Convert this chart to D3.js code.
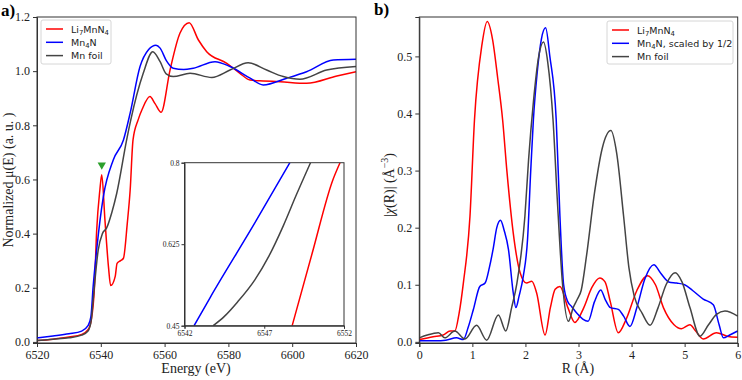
<!doctype html>
<html>
  <head>
    <script src="https://cdnjs.cloudflare.com/ajax/libs/d3/7.8.5/d3.min.js"></script>
    <style>
      body { margin: 0; background: #fff; }
      svg { display: block; }
      .tick text { font-family: "Liberation Serif", "Times New Roman", serif; font-size: 12px; fill: #222; }
      .axis path, .axis line { stroke: #333; }
      .lbl { font-family: "Liberation Serif", "Times New Roman", serif; font-size: 14px; fill: #222; }
      .leg { font-family: "DejaVu Sans", sans-serif; font-size: 9.5px; fill: #222; }
    </style>
  </head>
  <body>
    <svg id="chart" width="742" height="380"></svg>
    <script>
      // ---- panel a: XANES ----
      var liE  = [6520, 6525, 6530, 6534, 6536, 6537, 6538, 6538.7, 6539.7, 6540.3, 6541.3, 6542.4, 6543.1, 6544.5, 6545.1, 6546.2, 6547.1, 6548.3, 6549.2, 6550.1, 6551.7, 6553, 6555.4, 6557, 6558.9, 6561.7, 6564.8, 6567.7, 6570.6, 6573.2, 6579.5, 6583.6, 6586.8, 6590.9, 6596.2, 6604.5, 6614, 6620];
      var liMu = [0.005, 0.01, 0.018, 0.028, 0.045, 0.08, 0.2, 0.41, 0.56, 0.617, 0.45, 0.278, 0.208, 0.241, 0.29, 0.30, 0.309, 0.438, 0.56, 0.746, 0.82, 0.86, 0.906, 0.88, 0.848, 1.004, 1.14, 1.179, 1.115, 1.072, 1.029, 0.992, 0.967, 0.964, 0.961, 0.955, 0.982, 0.998];

      var mnE  = [6520, 6525, 6530, 6534, 6536, 6536.9, 6537.6, 6538.7, 6540.8, 6543.9, 6547.1, 6549.2, 6552.3, 6555, 6557.3, 6558.6, 6560.5, 6562.7, 6566, 6569, 6575.8, 6580.5, 6586.8, 6590.9, 6598.3, 6604.5, 6612.9, 6620];
      var mnMu = [0.015, 0.022, 0.03, 0.04, 0.06, 0.093, 0.204, 0.34, 0.537, 0.672, 0.746, 0.845, 1.017, 1.08, 1.096, 1.085, 1.04, 1.011, 1.006, 1.011, 1.035, 1.017, 0.974, 0.949, 0.974, 0.998, 1.041, 1.044];

      var feE  = [6520, 6525, 6530, 6534, 6536, 6537, 6537.6, 6539.2, 6540.5, 6541.8, 6543.5, 6545, 6548.1, 6549.4, 6553.3, 6556.3, 6558.6, 6560.5, 6562.7, 6568, 6574.8, 6580.5, 6586.2, 6592, 6597.2, 6602.4, 6610.8, 6620];
      var feMu = [0.005, 0.01, 0.015, 0.025, 0.04, 0.08, 0.155, 0.34, 0.40, 0.42, 0.48, 0.549, 0.746, 0.82, 0.992, 1.072, 1.035, 0.99, 0.98, 0.992, 0.977, 1.004, 1.031, 1.004, 0.98, 0.97, 1.004, 1.017];

      var preEdge = [6540.3, 0.654];

      // inset (zoom of edge)
      var inLiE  = [6548.75, 6550.0, 6551.3, 6551.75];
      var inLiMu = [0.45, 0.605, 0.763, 0.8];
      var inMnE  = [6542.6, 6543.6, 6546.4, 6548.6];
      var inMnMu = [0.45, 0.51, 0.67, 0.8];
      var inFeE  = [6543.8, 6544.5, 6545.3, 6546.4, 6547.3, 6548.2, 6549.0, 6549.9];
      var inFeMu = [0.45, 0.47, 0.50, 0.548, 0.60, 0.665, 0.73, 0.8];

      var aTicksX = [6520, 6540, 6560, 6580, 6600, 6620];
      var aTicksY = [0.0, 0.2, 0.4, 0.6, 0.8, 1.0, 1.2];
      var inTicksX = [6542, 6547, 6552];
      var inTicksY = [0.45, 0.625, 0.8];

      // ---- panel b: FT-EXAFS ----
      var liR   = [0, 0.26, 0.45, 0.58, 0.67, 0.75, 0.83, 0.955, 1.04, 1.18, 1.28, 1.38, 1.48, 1.57, 1.65, 1.77, 1.9, 2.02, 2.12, 2.21, 2.37, 2.47, 2.56, 2.65, 2.8, 2.93, 3.1, 3.25, 3.4, 3.5, 3.6, 3.75, 3.9, 4.1, 4.3, 4.45, 4.6, 4.8, 4.94, 5.1, 5.2, 5.35, 5.6, 5.8, 6];
      var liChi = [0.004, 0.009, 0.012, 0.019, 0.019, 0.05, 0.103, 0.22, 0.389, 0.52, 0.561, 0.53, 0.46, 0.389, 0.30, 0.191, 0.121, 0.103, 0.106, 0.086, 0.012, 0.06, 0.092, 0.097, 0.06, 0.034, 0.06, 0.095, 0.112, 0.105, 0.07, 0.016, 0.04, 0.09, 0.116, 0.1, 0.06, 0.03, 0.023, 0.03, 0.02, 0.005, 0.016, 0.01, 0.008];

      var mnR   = [0, 0.3, 0.5, 0.7, 0.83, 0.92, 1.02, 1.14, 1.24, 1.32, 1.39, 1.46, 1.53, 1.6, 1.68, 1.77, 1.82, 1.88, 1.96, 2.04, 2.1, 2.15, 2.22, 2.3, 2.38, 2.46, 2.58, 2.65, 2.72, 2.8, 2.87, 2.97, 3.08, 3.18, 3.3, 3.42, 3.5, 3.6, 3.75, 3.85, 3.97, 4.1, 4.25, 4.42, 4.55, 4.7, 4.85, 5.0, 5.15, 5.35, 5.54, 5.65, 5.73, 5.85, 6];
      var mnChi = [0.002, 0.002, 0.003, 0.007, 0.004, 0.025, 0.057, 0.097, 0.103, 0.13, 0.162, 0.2, 0.213, 0.195, 0.162, 0.086, 0.06, 0.08, 0.115, 0.18, 0.3, 0.389, 0.47, 0.53, 0.55, 0.5, 0.389, 0.22, 0.1, 0.07, 0.062, 0.05, 0.04, 0.036, 0.07, 0.091, 0.075, 0.06, 0.057, 0.045, 0.027, 0.06, 0.11, 0.135, 0.12, 0.105, 0.103, 0.1, 0.09, 0.075, 0.065, 0.03, 0.007, 0.012, 0.019];

      var feR   = [0, 0.15, 0.36, 0.48, 0.67, 0.86, 1.08, 1.27, 1.49, 1.63, 1.74, 1.84, 1.99, 2.06, 2.15, 2.25, 2.34, 2.42, 2.52, 2.6, 2.7, 2.81, 2.9, 2.98, 3.05, 3.15, 3.3, 3.45, 3.61, 3.72, 3.85, 3.95, 4.05, 4.2, 4.35, 4.5, 4.65, 4.82, 4.95, 5.1, 5.29, 5.45, 5.6, 5.76, 6];
      var feChi = [0.007, 0.012, 0.016, 0.007, 0.019, 0.005, 0.029, 0.003, 0.047, 0.019, 0.06, 0.103, 0.22, 0.32, 0.42, 0.5, 0.525, 0.49, 0.389, 0.25, 0.1, 0.036, 0.06, 0.075, 0.09, 0.15, 0.26, 0.34, 0.37, 0.33, 0.22, 0.13, 0.08, 0.05, 0.029, 0.06, 0.1, 0.121, 0.105, 0.06, 0.01, 0.03, 0.048, 0.054, 0.045];

      var bTicksX = [0, 1, 2, 3, 4, 5, 6];
      var bTicksY = [0.0, 0.1, 0.2, 0.3, 0.4, 0.5];

      var RED = "#ff0000", BLUE = "#0000ff", GREY = "#444444";

      var svg = d3.select("#chart");

      function pairs(xs, ys) { return xs.map((x, i) => [x, ys[i]]); }

      function drawLine(g, xs, ys, x, y, color) {
        var line = d3.line().x(d => x(d[0])).y(d => y(d[1])).curve(d3.curveMonotoneX);
        g.append("path").datum(pairs(xs, ys))
          .attr("d", line).attr("fill", "none")
          .attr("stroke", color).attr("stroke-width", 1.5);
      }

      function frame(g, x, y) {
        var r = x.range(), t = y.range();
        g.append("rect").attr("x", r[0]).attr("y", t[1])
          .attr("width", r[1] - r[0]).attr("height", t[0] - t[1])
          .attr("fill", "none").attr("stroke", "#333").attr("stroke-width", 1);
      }

      function legend(g, x0, y0, w, h, items) {
        g.append("rect").attr("x", x0).attr("y", y0).attr("width", w).attr("height", h)
          .attr("rx", 2).attr("fill", "#fff").attr("fill-opacity", 0.85)
          .attr("stroke", "#ccc").attr("stroke-width", 0.8);
        items.forEach((it, i) => {
          var yy = y0 + 9 + i * 13.3;
          g.append("line").attr("x1", x0 + 5).attr("x2", x0 + 22).attr("y1", yy).attr("y2", yy)
            .attr("stroke", it.color).attr("stroke-width", 1.5);
          var t = g.append("text").attr("class", "leg").attr("x", x0 + 30).attr("y", yy + 3.5);
          it.parts.forEach(p => {
            var s = t.append("tspan").text(p[0]);
            if (p[1]) s.attr("font-size", "6.8px").attr("dy", "2.5");
            else if (p[2]) s.attr("dy", "-2.5");
          });
        });
      }

      // ---------- panel a ----------
      var xa = d3.scaleLinear().domain([6520, 6620]).range([37, 356]);
      var ya = d3.scaleLinear().domain([-0.004, 1.2]).range([343, 17]);
      var ga = svg.append("g");

      ga.append("g").attr("class", "axis").attr("transform", "translate(0,343)")
        .call(d3.axisBottom(xa).tickValues(aTicksX).tickFormat(d3.format("d")).tickSizeOuter(0).tickSize(4).tickPadding(3));
      ga.append("g").attr("class", "axis").attr("transform", "translate(37,0)")
        .call(d3.axisLeft(ya).tickValues(aTicksY).tickFormat(d3.format(".1f")).tickSizeOuter(0).tickSize(4).tickPadding(3));

      drawLine(ga, liE, liMu, xa, ya, RED);
      drawLine(ga, mnE, mnMu, xa, ya, BLUE);
      drawLine(ga, feE, feMu, xa, ya, GREY);

      ga.append("path")
        .attr("d", d3.symbol().type(d3.symbolTriangle).size(30))
        .attr("transform", "translate(" + xa(preEdge[0]) + "," + ya(preEdge[1]) + ") rotate(180)")
        .attr("fill", "#2ca02c");

      frame(ga, xa, ya);

      legend(ga, 41, 20, 70, 44, [
        {color: RED,  parts: [["Li"], ["7", true], ["MnN", false, true], ["4", true]]},
        {color: BLUE, parts: [["Mn"], ["4", true], ["N", false, true]]},
        {color: GREY, parts: [["Mn foil"]]}
      ]);

      ga.append("text").attr("class", "lbl").attr("x", 196).attr("y", 373)
        .attr("text-anchor", "middle").text("Energy  (eV)");
      ga.append("text").attr("class", "lbl")
        .attr("transform", "translate(13,180) rotate(-90)")
        .attr("text-anchor", "middle").text("Normalized μ(E)  (a. u. )");
      ga.append("text").attr("x", 1).attr("y", 16)
        .attr("font-family", "Liberation Serif, serif").attr("font-weight", "bold")
        .attr("font-size", "17px").text("a)");

      // inset
      var xi = d3.scaleLinear().domain([6542, 6552]).range([184.5, 344]);
      var yi = d3.scaleLinear().domain([0.45, 0.8]).range([325.7, 162.7]);
      var gi = svg.append("g");
      gi.append("rect").attr("x", 184.5).attr("y", 162.7).attr("width", 159.5).attr("height", 163)
        .attr("fill", "#fff");
      svg.append("clipPath").attr("id", "inclip").append("rect")
        .attr("x", 184.5).attr("y", 162.7).attr("width", 159.5).attr("height", 163);
      var gil = gi.append("g").attr("clip-path", "url(#inclip)");
      drawLine(gil, inLiE, inLiMu, xi, yi, RED);
      drawLine(gil, inMnE, inMnMu, xi, yi, BLUE);
      drawLine(gil, inFeE, inFeMu, xi, yi, GREY);
      var ax1 = gi.append("g").attr("class", "axis").attr("transform", "translate(0,325.7)")
        .call(d3.axisBottom(xi).tickValues(inTicksX).tickFormat(d3.format("d")).tickSizeOuter(0).tickSize(3).tickPadding(2));
      var ax2 = gi.append("g").attr("class", "axis").attr("transform", "translate(184.5,0)")
        .call(d3.axisLeft(yi).tickValues(inTicksY).tickFormat(d => String(d)).tickSizeOuter(0).tickSize(3).tickPadding(2));
      ax1.selectAll("text").style("font-size", "7.5px");
      ax2.selectAll("text").style("font-size", "7.5px");
      frame(gi, xi, yi);

      // ---------- panel b ----------
      var xb = d3.scaleLinear().domain([0, 6]).range([419.3, 737.7]);
      var yb = d3.scaleLinear().domain([-0.002, 0.569]).range([343, 17]);
      var gb = svg.append("g");

      gb.append("g").attr("class", "axis").attr("transform", "translate(0,343)")
        .call(d3.axisBottom(xb).tickValues(bTicksX).tickFormat(d3.format("d")).tickSizeOuter(0).tickSize(4).tickPadding(3));
      gb.append("g").attr("class", "axis").attr("transform", "translate(419.3,0)")
        .call(d3.axisLeft(yb).tickValues(bTicksY).tickFormat(d3.format(".1f")).tickSizeOuter(0).tickSize(4).tickPadding(3));

      drawLine(gb, liR, liChi, xb, yb, RED);
      drawLine(gb, mnR, mnChi, xb, yb, BLUE);
      drawLine(gb, feR, feChi, xb, yb, GREY);

      frame(gb, xb, yb);

      legend(gb, 607, 21, 126, 43, [
        {color: RED,  parts: [["Li"], ["7", true], ["MnN", false, true], ["4", true]]},
        {color: BLUE, parts: [["Mn"], ["4", true], ["N, scaled by 1/2", false, true]]},
        {color: GREY, parts: [["Mn foil"]]}
      ]);

      gb.append("text").attr("class", "lbl").attr("x", 578).attr("y", 373)
        .attr("text-anchor", "middle").text("R  (Å)");
      var yl = gb.append("text").attr("class", "lbl")
        .attr("transform", "translate(394,185) rotate(-90)")
        .attr("text-anchor", "middle");
      yl.append("tspan").text("|");
      yl.append("tspan").attr("font-style", "italic").text("χ");
      yl.append("tspan").text("(R)|  (Å");
      yl.append("tspan").attr("font-size", "10px").attr("dy", "-6").text("−3");
      yl.append("tspan").attr("dy", "6").text(")");
      gb.append("text").attr("x", 374).attr("y", 15)
        .attr("font-family", "Liberation Serif, serif").attr("font-weight", "bold")
        .attr("font-size", "17px").text("b)");
    </script>
  </body>
</html>
